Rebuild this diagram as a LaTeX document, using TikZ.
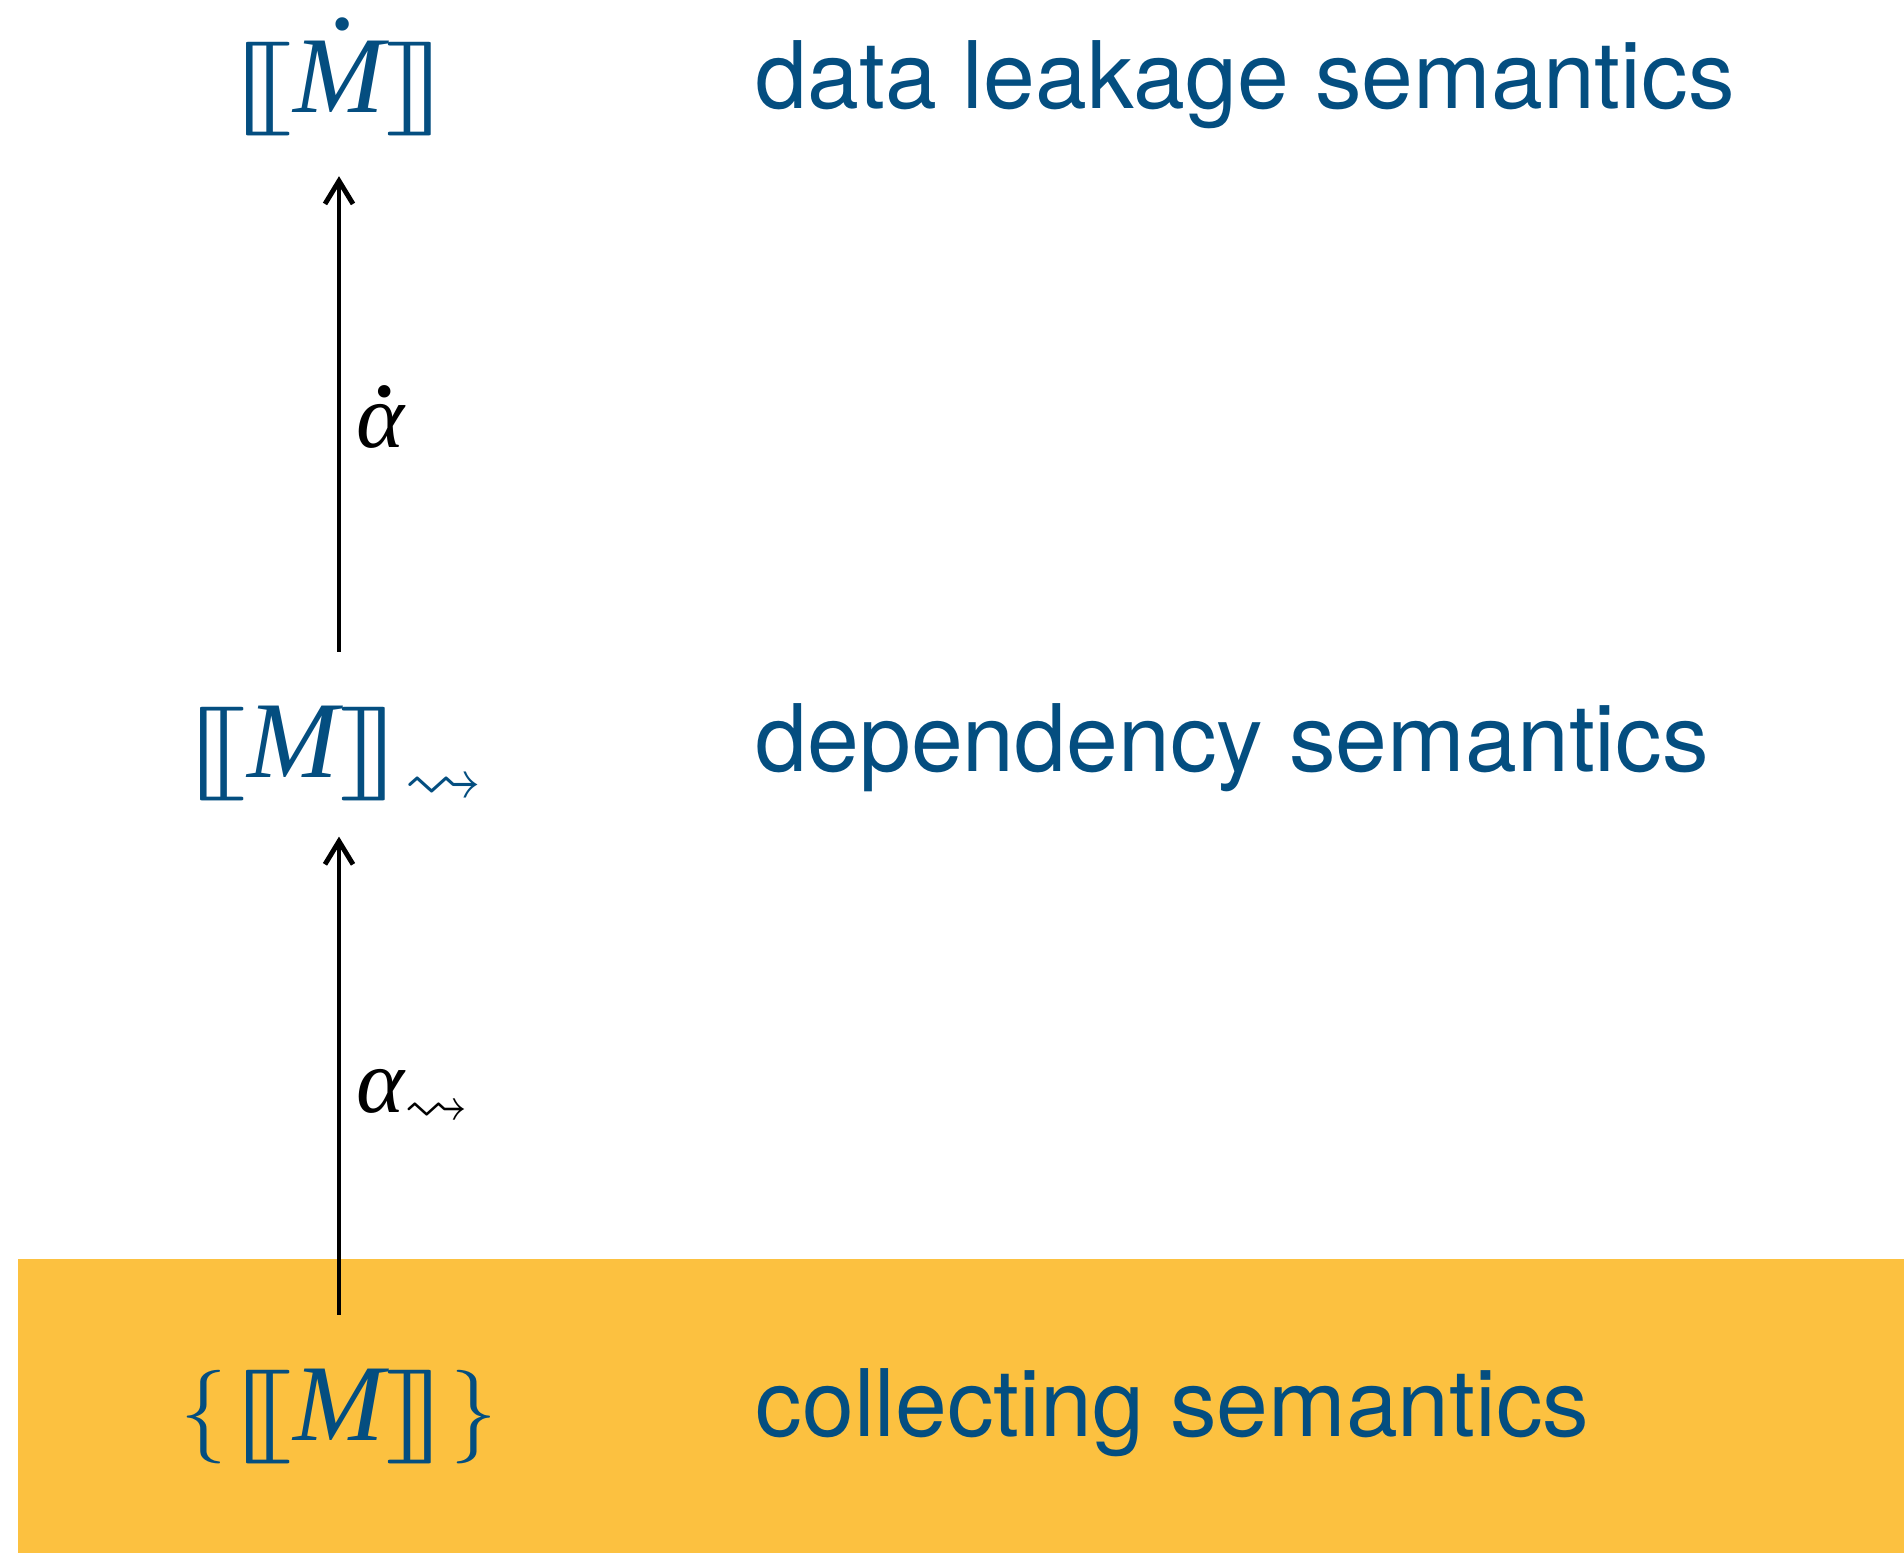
\documentclass[tikz,border=0pt]{standalone}
\usepackage{amsmath}
\usepackage{amssymb}
\usepackage{stmaryrd}
\usepackage{graphicx}
\usepackage{fontspec}
\setmainfont{TeX Gyre Heros}
\newfontfamily\timesfam{Liberation Serif}
\usetikzlibrary{arrows.meta}
\definecolor{semblue}{RGB}{4,78,128}
\definecolor{bandyellow}{RGB}{252,193,64}
% wide semantic brackets
\newcommand{\semL}{\mathopen{\scalebox{1.75}[1]{$\llbracket$}}}
\newcommand{\semR}{\mathclose{\scalebox{1.75}[1]{$\rrbracket$}}}
\newcommand{\semM}{\mbox{\timesfam\itshape\fontsize{29}{33}\selectfont M}}
\newcommand{\semA}{\mbox{\timesfam\itshape α}}
% round dot set above a symbol: #1 symbol, #2 raise, #3 horizontal shift
\newcommand{\semdot}[3]{\mbox{\ooalign{#1\cr\hidewidth\kern#3\smash{\raisebox{#2}{\timesfam\fontsize{30}{30}\selectfont .}}\hidewidth\cr}}}
\begin{document}
\begin{tikzpicture}[x=0.01cm,y=-0.01cm,
  semtext/.style={anchor=base west, inner sep=0pt, text=semblue, font=\fontsize{26.5}{32}\selectfont},
  semmath/.style={anchor=base, inner sep=0pt, text=semblue, font=\Huge, scale=1.07},
  absarrow/.style={-{Straight Barb[length=0.23cm,width=0.28cm]}, line width=1.4pt, black},
  abslabel/.style={anchor=base west, inner sep=0pt, font=\fontsize{26}{30}\selectfont}]
\useasboundingbox (0,0) rectangle (1904,1553);
% highlighted band behind the concrete semantics
\fill[bandyellow] (18,1259) rectangle (1904,1553);

% semantics, from most concrete (bottom) to most abstract (top)
\node[semmath] (leak) at (339,112) {$\semL \semdot{\semM}{22pt}{2pt} \semR$};
\node[semmath] (depend) at (333,777) {$\semL \semM \semR_{\rightsquigarrow}$};
\node[semmath] (collect) at (339,1440) {$\{\semL \semM \semR\}$};

\node[semtext] (leaktxt) at (755,108) {data leakage semantics};
\node[semtext] (dependtxt) at (755,771) {dependency semantics};
\node[semtext] (collecttxt) at (755,1436) {collecting semantics};

% abstractions
\draw[absarrow, shorten <=0.53cm, shorten >=0.315cm]
  (collect.north) -- (collect.north |- depend.south);
\draw[absarrow, shorten <=0.53cm, shorten >=0.40cm]
  (leak.south |- depend.north) -- (leak.south);

\node[abslabel] (alphadep) at (356,1112) {$\semA_{\rightsquigarrow}$};
\node[abslabel] (alphadot) at (356,447) {\semdot{\semA}{14.5pt}{2pt}};
\end{tikzpicture}
\end{document}
